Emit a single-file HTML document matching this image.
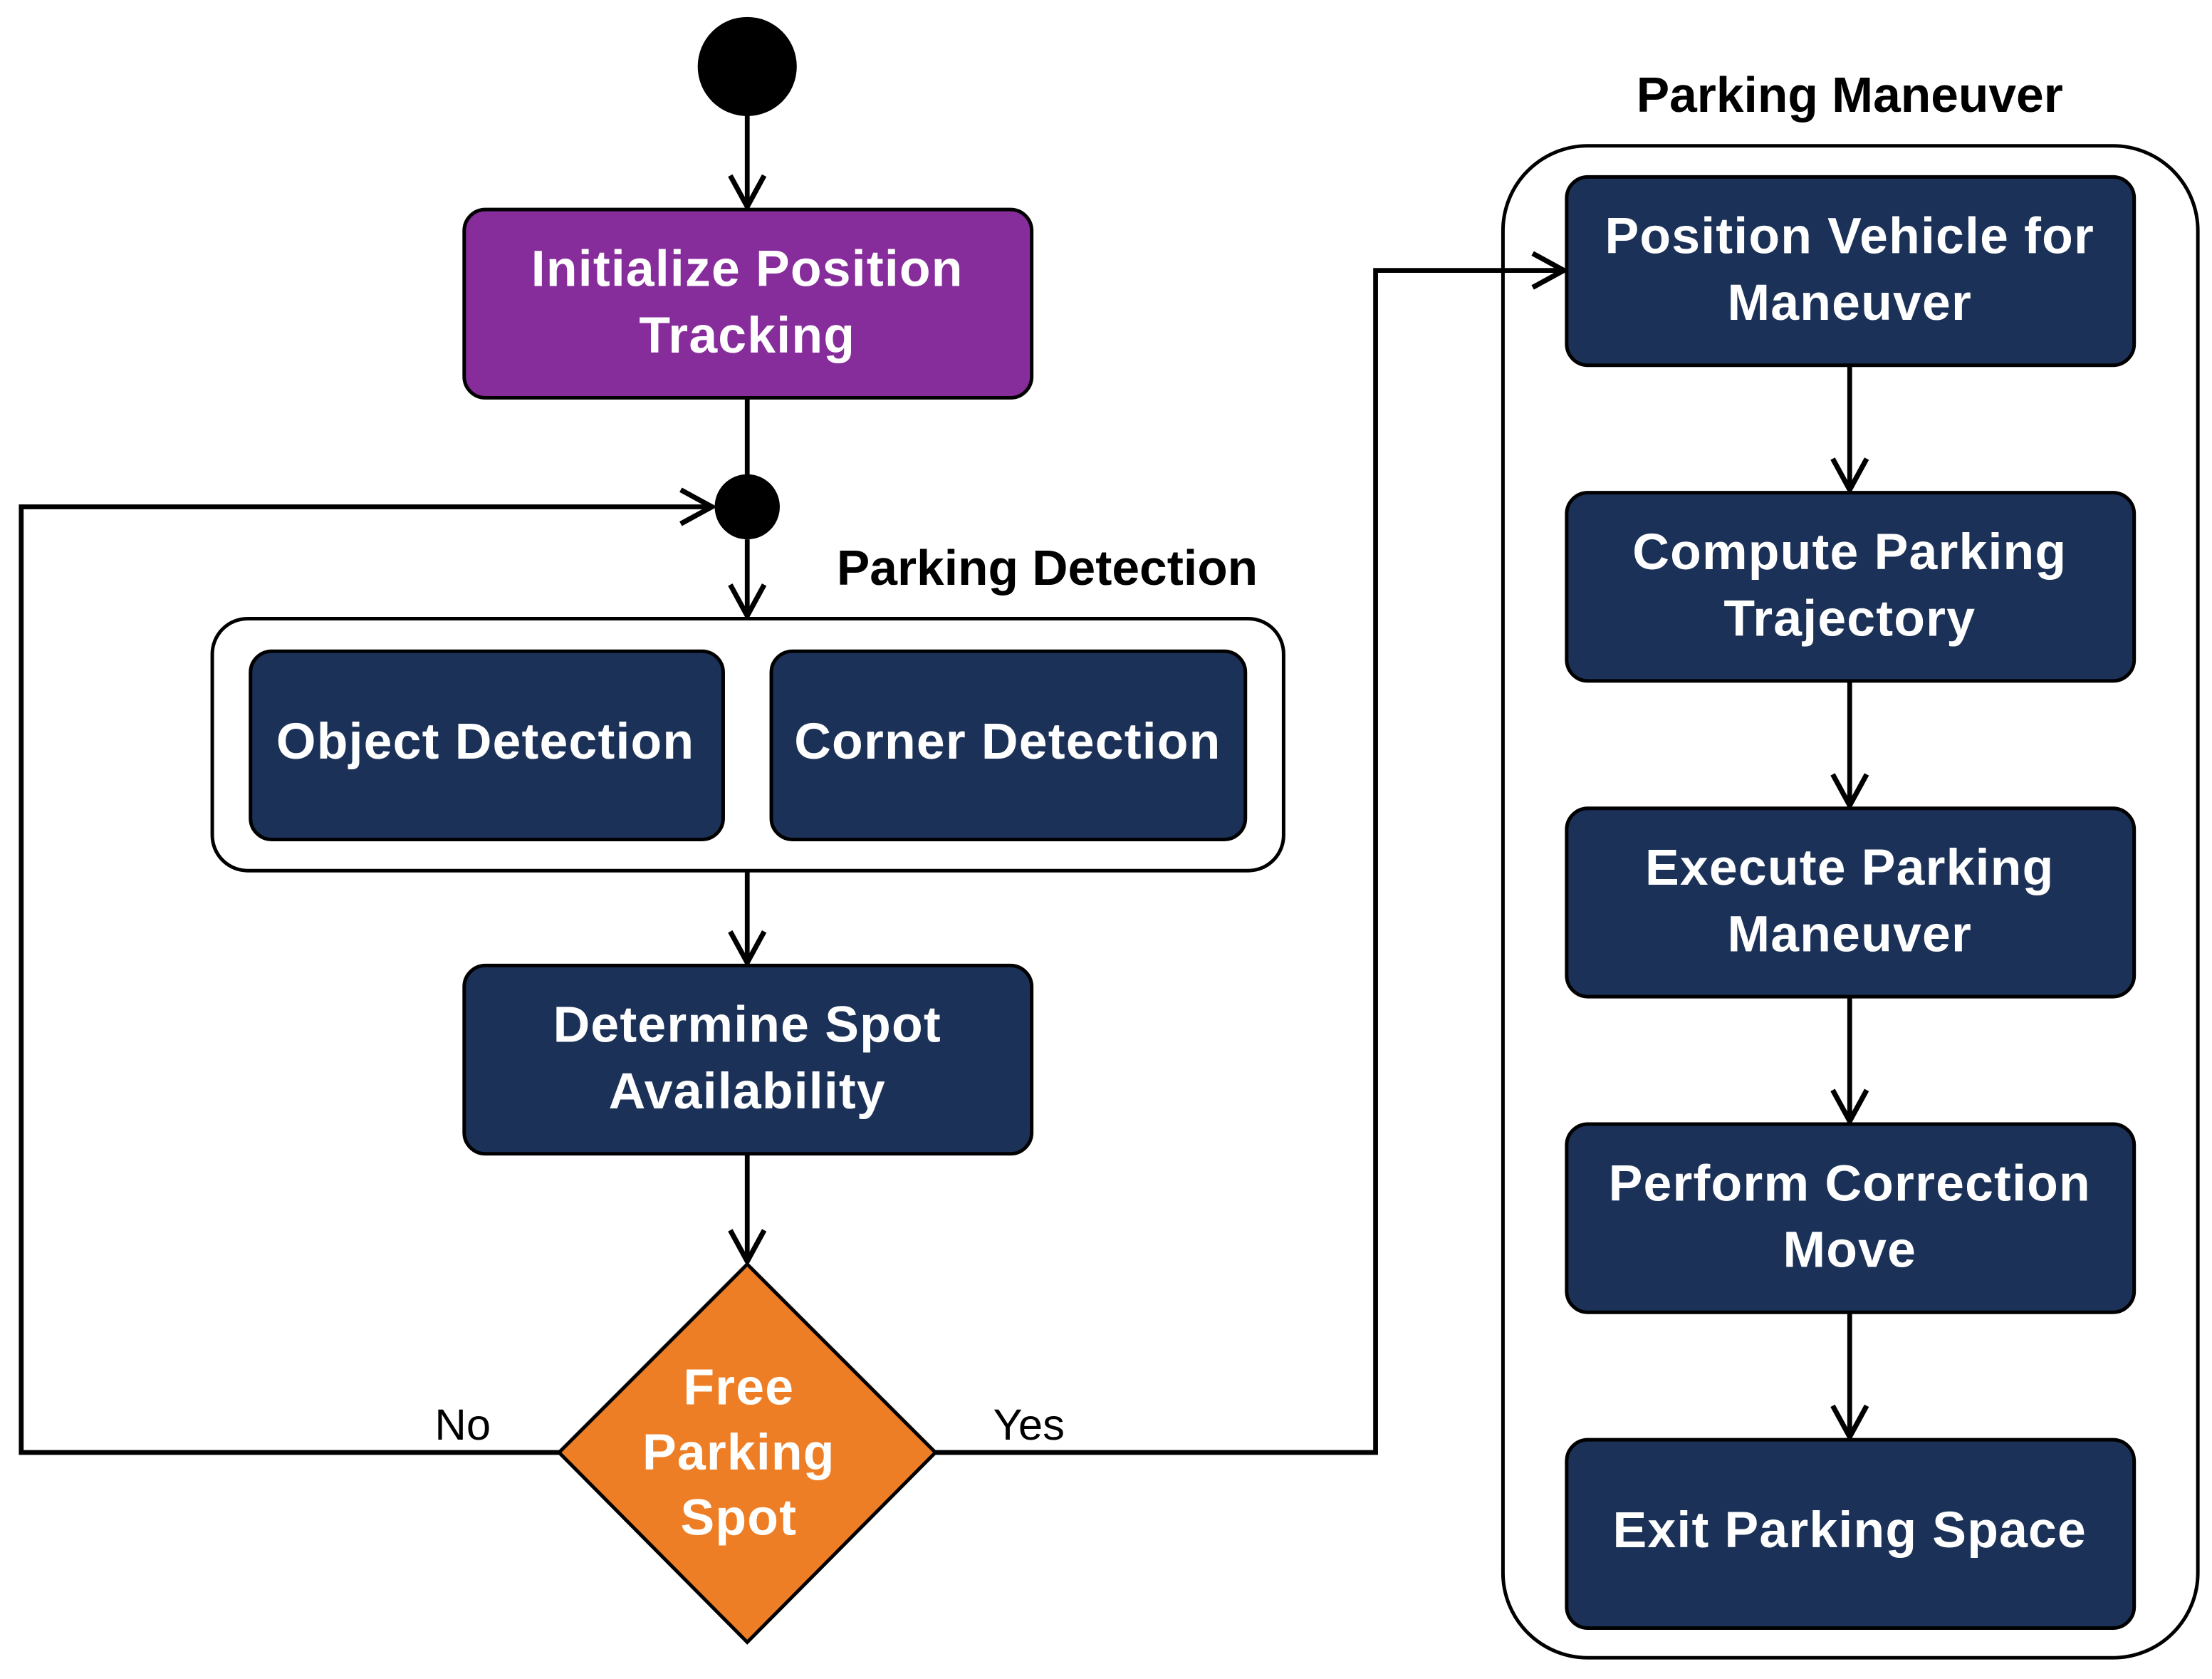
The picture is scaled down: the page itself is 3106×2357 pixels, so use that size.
<!DOCTYPE html>
<html><head><meta charset="utf-8"><style>
html,body{margin:0;padding:0;background:#fff;}
svg{display:block;}
text{font-family:"Liberation Sans",Arial,sans-serif;font-weight:bold;}
</style></head><body>
<svg width="3106" height="2357" viewBox="0 0 1563 1186" preserveAspectRatio="none" xmlns="http://www.w3.org/2000/svg">
<defs>
<marker id="b" viewBox="0 0 28 28" refX="26" refY="14" markerWidth="28" markerHeight="28" markerUnits="userSpaceOnUse" orient="auto">
<path d="M4,2 L26,14 L4,26" fill="none" stroke="#000" stroke-width="3.6"/>
</marker>
</defs>
<rect width="1563" height="1186" fill="#fff"/>
<rect x="150" y="437" width="757" height="178" rx="25" fill="#fff" stroke="#000" stroke-width="2.5"/>
<rect x="1062" y="103" width="491" height="1068" rx="60" fill="#fff" stroke="#000" stroke-width="2.5"/>
<g stroke="#000" stroke-width="3.4" fill="none">
<line x1="528" y1="80" x2="528" y2="146" marker-end="url(#b)"/>
<line x1="528" y1="281" x2="528" y2="336"/>
<line x1="528" y1="381" x2="528" y2="435" marker-end="url(#b)"/>
<polyline points="395,1026 15,1026 15,358 503,358" marker-end="url(#b)"/>
<line x1="528" y1="615" x2="528" y2="680" marker-end="url(#b)"/>
<line x1="528" y1="815" x2="528" y2="891" marker-end="url(#b)"/>
<polyline points="661,1026 972,1026 972,191 1105,191" marker-end="url(#b)"/>
<line x1="1307" y1="258" x2="1307" y2="346" marker-end="url(#b)"/>
<line x1="1307" y1="481" x2="1307" y2="569" marker-end="url(#b)"/>
<line x1="1307" y1="704" x2="1307" y2="792" marker-end="url(#b)"/>
<line x1="1307" y1="927" x2="1307" y2="1015" marker-end="url(#b)"/>
</g>
<circle cx="528" cy="47" r="35" fill="#000"/>
<circle cx="528" cy="358" r="23" fill="#000"/>
<rect x="328" y="148" width="401" height="133" rx="15" fill="#862D9B" stroke="#000" stroke-width="2.5"/>
<rect x="177" y="460" width="334" height="133" rx="15" fill="#1B3157" stroke="#000" stroke-width="2.5"/>
<rect x="545" y="460" width="335" height="133" rx="15" fill="#1B3157" stroke="#000" stroke-width="2.5"/>
<rect x="328" y="682" width="401" height="133" rx="15" fill="#1B3157" stroke="#000" stroke-width="2.5"/>
<polygon points="528,893 661,1026 528,1160 395,1026" fill="#EE7E25" stroke="#000" stroke-width="2.5"/>
<g fill="#1B3157" stroke="#000" stroke-width="2.5">
<rect x="1107" y="125" width="401" height="133" rx="15"/>
<rect x="1107" y="348" width="401" height="133" rx="15"/>
<rect x="1107" y="571" width="401" height="133" rx="15"/>
<rect x="1107" y="794" width="401" height="133" rx="15"/>
<rect x="1107" y="1017" width="401" height="133" rx="15"/>
</g>
<g fill="#fff" font-size="36" text-anchor="middle" style="letter-spacing:0.6px">
<text x="528" y="202">Initialize Position</text>
<text x="528" y="249">Tracking</text>
<text x="343" y="536">Object Detection</text>
<text x="712" y="536">Corner Detection</text>
<text x="528" y="736">Determine Spot</text>
<text x="528" y="783">Availability</text>
<text x="522" y="992">Free</text>
<text x="522" y="1038">Parking</text>
<text x="522" y="1084">Spot</text>
<text x="1307" y="179">Position Vehicle for</text>
<text x="1307" y="226">Maneuver</text>
<text x="1307" y="402">Compute Parking</text>
<text x="1307" y="449">Trajectory</text>
<text x="1307" y="625">Execute Parking</text>
<text x="1307" y="672">Maneuver</text>
<text x="1307" y="848">Perform Correction</text>
<text x="1307" y="895">Move</text>
<text x="1307" y="1093">Exit Parking Space</text>
</g>
<g fill="#000" font-size="35">
<text x="740" y="413" text-anchor="middle">Parking Detection</text>
<text x="1307" y="79" text-anchor="middle">Parking Maneuver</text>
<text x="327" y="1017" text-anchor="middle" style="font-weight:normal" font-size="31">No</text>
<text x="727" y="1017" text-anchor="middle" style="font-weight:normal" font-size="31">Yes</text>
</g>
</svg>
</body></html>
